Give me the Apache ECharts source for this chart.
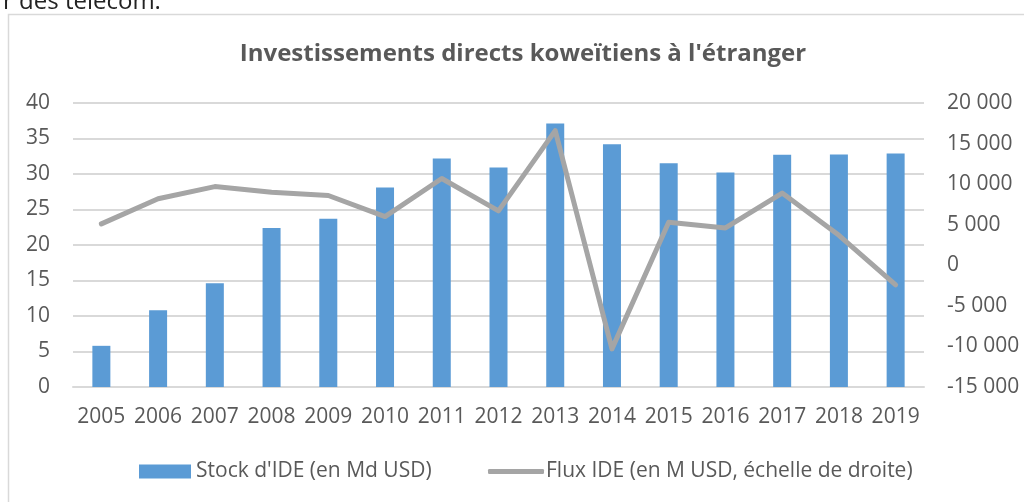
<!DOCTYPE html>
<html>
<head>
<meta charset="utf-8">
<script src="https://cdn.jsdelivr.net/npm/echarts@6/dist/echarts.min.js"></script>
<style>
  html, body { margin: 0; padding: 0; background: #fff; }
  #chart { width: 1024px; height: 502px; }
</style>
</head>
<body>
<div id="chart"></div>
<script>
const years = ['2005', '2006', '2007', '2008', '2009', '2010', '2011', '2012', '2013', '2014', '2015', '2016', '2017', '2018', '2019']
// Stock d'IDE, Md USD (left axis)
const stockValues = [5.8, 10.8, 14.6, 22.4, 23.7, 28.1, 32.2, 30.9, 37.1, 34.2, 31.5, 30.2, 32.7, 32.75, 32.9]
// Flux IDE, M USD (right axis)
const fluxValues = [5100, 8200, 9700, 9000, 8600, 6000, 10700, 6700, 16600, -10300, 5300, 4600, 8900, 3700, -2400]

const stockName = "Stock d'IDE (en Md USD)"
const fluxName = 'Flux IDE (en M USD, échelle de droite)'
const font = '"Open Sans", "Noto Sans", sans-serif'
const textColor = '#595959'

const chart = echarts.init(document.getElementById('chart'))

// "20000" -> "20 000"
const fmtThousands = v => {
  const s = Math.abs(v).toString().replace(/\B(?=(\d{3})+(?!\d))/g, ' ')
  return (v < 0 ? '-' : '') + s
}

chart.setOption({
  animation: false,
  textStyle: { fontFamily: font },
  title: {
    text: "Investissements directs koweïtiens à l'étranger",
    left: 523,
    textAlign: 'center',
    top: 42,
    padding: 0,
    textStyle: { fontSize: 24, fontWeight: 'bold', color: textColor, fontFamily: font }
  },
  graphic: [
    // chart frame
    {
      type: 'rect',
      shape: { x: 8.5, y: 14.5, width: 1040, height: 520 },
      style: { fill: 'none', stroke: '#d9d9d9', lineWidth: 1.5 },
      silent: true
    },
    // cut-off text from the surrounding document
    {
      type: 'text',
      x: 3,
      y: 2,
      style: { text: 'r des télécom.', font: '24px ' + font, fill: '#222', verticalAlign: 'middle' },
      silent: true
    }
  ],
  legend: [
    {
      data: [{ name: stockName, icon: 'rect' }],
      left: 139,
      top: 461,
      padding: 0,
      itemWidth: 52,
      itemHeight: 14,
      itemGap: 0,
      textStyle: { fontSize: 21, color: textColor, padding: [0, 0, 0, 0] }
    },
    {
      data: [{ name: fluxName, icon: 'roundRect' }],
      left: 488,
      top: 461,
      padding: 0,
      itemWidth: 56,
      itemHeight: 5,
      itemGap: 0,
      textStyle: { fontSize: 21, color: textColor, padding: [0, 0, 0, -3] }
    }
  ],
  grid: { left: 73, right: 100, top: 103, bottom: 115, containLabel: false },
  xAxis: {
    type: 'category',
    data: years,
    axisTick: { show: false },
    axisLine: { lineStyle: { color: '#d9d9d9', width: 2 } },
    axisLabel: { fontSize: 21, color: textColor, margin: 20, interval: 0, hideOverlap: false }
  },
  yAxis: [
    {
      type: 'value',
      min: 0,
      max: 40,
      interval: 5,
      axisLine: { show: false },
      axisTick: { show: false },
      splitLine: { lineStyle: { color: '#d9d9d9', width: 2 } },
      axisLabel: { fontSize: 21, color: textColor, margin: 23 }
    },
    {
      type: 'value',
      min: -15000,
      max: 20000,
      interval: 5000,
      position: 'right',
      axisLine: { show: false },
      axisTick: { show: false },
      splitLine: { show: false },
      axisLabel: { fontSize: 21, color: textColor, margin: 23, formatter: fmtThousands }
    }
  ],
  series: [
    {
      name: stockName,
      type: 'bar',
      data: stockValues,
      barWidth: 18,
      itemStyle: { color: '#5b9bd5' }
    },
    {
      name: fluxName,
      type: 'line',
      yAxisIndex: 1,
      data: fluxValues,
      symbol: 'none',
      lineStyle: { color: '#a5a5a5', width: 5, cap: 'round', join: 'round' },
      itemStyle: { color: '#a5a5a5' }
    }
  ]
})

window.addEventListener('resize', () => chart.resize())
</script>
</body>
</html>
